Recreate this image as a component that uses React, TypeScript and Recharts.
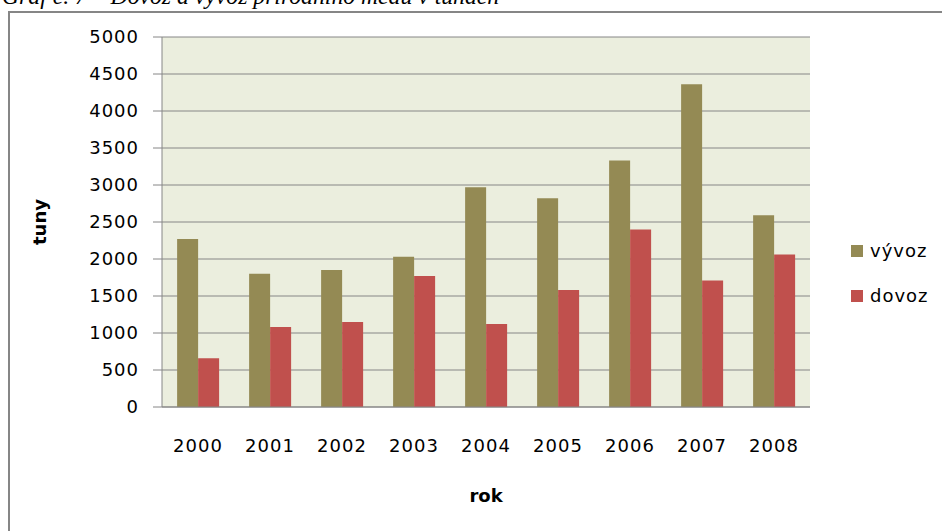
import React from 'react'
import { BarChart, Bar, XAxis, YAxis, CartesianGrid, Label } from 'recharts'

const years = ['2000', '2001', '2002', '2003', '2004', '2005', '2006', '2007', '2008']
const vyvoz = [2270, 1800, 1850, 2030, 2970, 2820, 3330, 4360, 2590]
const dovoz = [660, 1080, 1150, 1770, 1120, 1580, 2400, 1710, 2060]
const yTicks = [0, 500, 1000, 1500, 2000, 2500, 3000, 3500, 4000, 4500, 5000]
const seriesNames = ['vývoz', 'dovoz']
const seriesColors = ['#948A54', '#C0504D']

const data = years.map((rok, i) => ({ rok, [seriesNames[0]]: vyvoz[i], [seriesNames[1]]: dovoz[i] }))

const font = '"DejaVu Sans", sans-serif'
const gray = '#868686'

// x axis title sits well below the tick labels
function RokLabel({ viewBox }: any) {
  return (
    <text x={viewBox.x + viewBox.width / 2} y={viewBox.y + 95} textAnchor="middle"
      style={{ fill: '#000', fontFamily: font, fontSize: 18, fontWeight: 'bold' }}>rok</text>
  )
}

export default function App() {
  return (
    <div style={{ position: 'absolute', left: 0, top: 0, width: 942, height: 531, overflow: 'hidden', background: '#fff' }}>
      <div style={{
        position: 'absolute', left: 2, top: -15, fontFamily: '"Liberation Serif", serif', fontStyle: 'italic',
        fontSize: 23.7, lineHeight: '23.7px', whiteSpace: 'nowrap', color: '#000'
      }}>
        Graf č. 7 – Dovoz a vývoz přírodního medu v tunách
      </div>
      <div style={{ position: 'absolute', left: 8, top: 11, width: 980, height: 600, border: `2px solid ${gray}` }} />
      <div style={{ position: 'absolute', left: 0, top: 0 }}>
        <BarChart width={942} height={531} data={data} margin={{ top: 37, right: 132, left: 0, bottom: 44 }}
          barCategoryGap="21%" barGap={0}>
          <CartesianGrid vertical={false} stroke={gray} fill="#EBEEDE" />
          <XAxis dataKey="rok" height={80} tickLine={false} tickSize={0} tickMargin={32} stroke={gray}
            tick={{ fill: '#000', fontFamily: font, fontSize: 18, letterSpacing: 1 }}>
            <Label content={RokLabel} />
          </XAxis>
          <YAxis width={162} domain={[0, 5000]} ticks={yTicks} interval={0} tickSize={9} tickMargin={14}
            stroke={gray} tick={{ fill: '#000', fontFamily: font, fontSize: 18, letterSpacing: 1 }}>
            <Label value="tuny" angle={-90} position="insideLeft" offset={40}
              style={{ fill: '#000', fontFamily: font, fontSize: 18, fontWeight: 'bold', textAnchor: 'middle' }} />
          </YAxis>
          <Bar dataKey={seriesNames[0]} fill={seriesColors[0]} isAnimationActive={false} />
          <Bar dataKey={seriesNames[1]} fill={seriesColors[1]} isAnimationActive={false} />
        </BarChart>
      </div>
      <div style={{ position: 'absolute', left: 851, top: 228 }}>
        {seriesNames.map((name, i) => (
          <div key={name} style={{ display: 'flex', alignItems: 'center', height: 45 }}>
            <span style={{ width: 12, height: 12, background: seriesColors[i], marginRight: 7, display: 'inline-block' }} />
            <span style={{ fontFamily: font, fontSize: 18, letterSpacing: 1, color: '#000' }}>{name}</span>
          </div>
        ))}
      </div>
    </div>
  )
}
